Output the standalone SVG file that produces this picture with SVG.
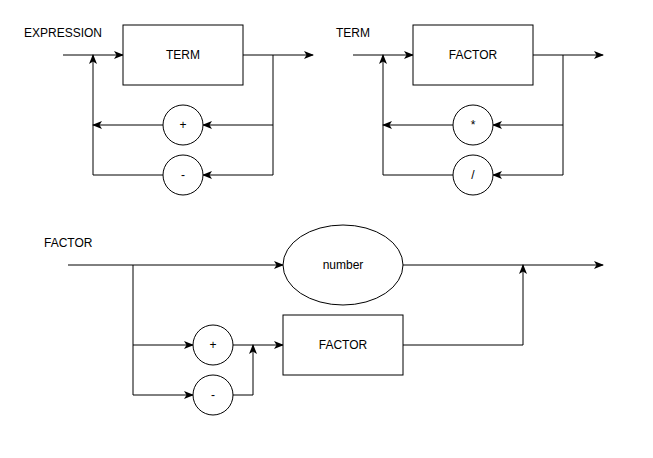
<svg xmlns="http://www.w3.org/2000/svg" width="653" height="458" viewBox="0 0 653 458">
<defs>
<marker id="arr" viewBox="0 0 10 8" refX="9" refY="4" markerWidth="10" markerHeight="8" markerUnits="userSpaceOnUse" orient="auto">
<path d="M0,0 L10,4 L0,8 L2.5,4 Z" fill="#000"/>
</marker>
</defs>
<style>
.n{fill:#fff;stroke:#000;stroke-width:1}
.t{font-family:"Liberation Sans",Arial,sans-serif;font-size:12px;fill:#000}
.c{text-anchor:middle;dominant-baseline:central}
.e{fill:none;stroke:#000;stroke-width:1}
.a{marker-end:url(#arr)}
</style>
<rect width="653" height="458" fill="#fff"/>
<g id="labels">
<text class="t" x="24" y="37">EXPRESSION</text>
<text class="t" x="336" y="37">TERM</text>
<text class="t" x="44" y="247">FACTOR</text>
</g>
<g id="connectors">
<!-- Expression -->
<path class="e a" d="M63,55 H123"/>
<path class="e a" d="M243,55 H313"/>
<path class="e" d="M273,55 V175"/>
<path class="e a" d="M273,125 H203"/>
<path class="e a" d="M273,175 H203"/>
<path class="e a" d="M163,125 H93"/>
<path class="e a" d="M163,175 H93 V55"/>
<!-- Term -->
<path class="e a" d="M353,55 H413"/>
<path class="e a" d="M533,55 H603"/>
<path class="e" d="M563,55 V175"/>
<path class="e a" d="M563,125 H493"/>
<path class="e a" d="M563,175 H493"/>
<path class="e a" d="M453,125 H383"/>
<path class="e a" d="M453,175 H383 V55"/>
<!-- Factor -->
<path class="e a" d="M68,265 H283"/>
<path class="e a" d="M403,265 H603"/>
<path class="e" d="M133,265 V395"/>
<path class="e a" d="M133,345 H193"/>
<path class="e a" d="M133,395 H193"/>
<path class="e a" d="M233,345 H283"/>
<path class="e a" d="M233,395 H253 V345"/>
<path class="e a" d="M403,345 H523 V265"/>
</g>
<g id="expr-term"><rect class="n" x="123" y="25" width="120" height="60"/><text class="t c" x="183" y="55">TERM</text></g>
<g id="expr-plus"><circle class="n" cx="183" cy="125" r="20"/><text class="t c" x="183" y="125">+</text></g>
<g id="expr-minus"><circle class="n" cx="183" cy="175" r="20"/><text class="t c" x="183" y="175">-</text></g>
<g id="term-factor"><rect class="n" x="413" y="25" width="120" height="60"/><text class="t c" x="473" y="55">FACTOR</text></g>
<g id="term-mul"><circle class="n" cx="473" cy="125" r="20"/><text class="t c" x="473" y="125">*</text></g>
<g id="term-div"><circle class="n" cx="473" cy="175" r="20"/><text class="t c" x="473" y="175">/</text></g>
<g id="factor-number"><ellipse class="n" cx="343" cy="265" rx="60" ry="40"/><text class="t c" x="343" y="265">number</text></g>
<g id="factor-plus"><circle class="n" cx="213" cy="345" r="20"/><text class="t c" x="213" y="345">+</text></g>
<g id="factor-minus"><circle class="n" cx="213" cy="395" r="20"/><text class="t c" x="213" y="395">-</text></g>
<g id="factor-factor"><rect class="n" x="283" y="315" width="120" height="60"/><text class="t c" x="343" y="345">FACTOR</text></g>
</svg>
